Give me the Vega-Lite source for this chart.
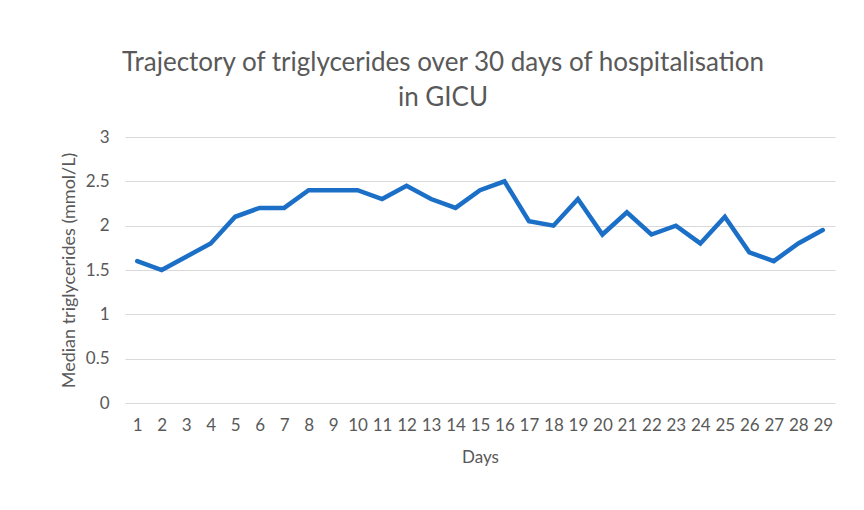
{
  "$schema": "https://vega.github.io/schema/vega-lite/v6.json",
  "autosize": "none",
  "width": 710,
  "height": 266,
  "padding": {"left": 125, "top": 137, "right": 29, "bottom": 107},
  "background": "white",
  "title": {
    "text": ["Trajectory of triglycerides over 30 days of hospitalisation", "in GICU"],
    "anchor": "middle",
    "dx": -37,
    "font": "Lato",
    "fontSize": 26,
    "fontWeight": "normal",
    "color": "#595959",
    "lineHeight": 35,
    "offset": 17
  },
  "data": {
    "values": [
      {"day": 1, "tg": 1.6},
      {"day": 2, "tg": 1.5},
      {"day": 3, "tg": 1.65},
      {"day": 4, "tg": 1.8},
      {"day": 5, "tg": 2.1},
      {"day": 6, "tg": 2.2},
      {"day": 7, "tg": 2.2},
      {"day": 8, "tg": 2.4},
      {"day": 9, "tg": 2.4},
      {"day": 10, "tg": 2.4},
      {"day": 11, "tg": 2.3},
      {"day": 12, "tg": 2.45},
      {"day": 13, "tg": 2.3},
      {"day": 14, "tg": 2.2},
      {"day": 15, "tg": 2.4},
      {"day": 16, "tg": 2.5},
      {"day": 17, "tg": 2.05},
      {"day": 18, "tg": 2.0},
      {"day": 19, "tg": 2.3},
      {"day": 20, "tg": 1.9},
      {"day": 21, "tg": 2.15},
      {"day": 22, "tg": 1.9},
      {"day": 23, "tg": 2.0},
      {"day": 24, "tg": 1.8},
      {"day": 25, "tg": 2.1},
      {"day": 26, "tg": 1.7},
      {"day": 27, "tg": 1.6},
      {"day": 28, "tg": 1.8},
      {"day": 29, "tg": 1.95}
    ]
  },
  "mark": {"type": "line", "color": "#1c6fc6", "strokeWidth": 4.5, "strokeJoin": "miter", "strokeCap": "round"},
  "encoding": {
    "x": {
      "field": "day",
      "type": "ordinal",
      "scale": {"type": "point", "padding": 0.5},
      "axis": {
        "title": "Days",
        "labelAngle": 0,
        "grid": false,
        "domain": false,
        "ticks": false,
        "labelFont": "Lato",
        "labelFontSize": 17,
        "labelColor": "#595959",
        "labelPadding": 14,
        "titleFont": "Lato",
        "titleFontSize": 17,
        "titleFontWeight": "normal",
        "titleColor": "#595959",
        "titlePadding": 16
      }
    },
    "y": {
      "field": "tg",
      "type": "quantitative",
      "scale": {"domain": [0, 3], "nice": false, "zero": true},
      "axis": {
        "title": "Median triglycerides (mmol/L)",
        "values": [0, 0.5, 1, 1.5, 2, 2.5, 3],
        "format": "~g",
        "grid": true,
        "gridColor": "#d9d9d9",
        "gridWidth": 1.2,
        "domain": false,
        "ticks": false,
        "labelFont": "Lato",
        "labelFontSize": 17,
        "labelColor": "#595959",
        "labelPadding": 16,
        "titleFont": "Lato",
        "titleFontSize": 18,
        "titleFontWeight": "normal",
        "titleColor": "#595959",
        "titlePadding": 7
      }
    }
  },
  "config": {"view": {"stroke": null}}
}
